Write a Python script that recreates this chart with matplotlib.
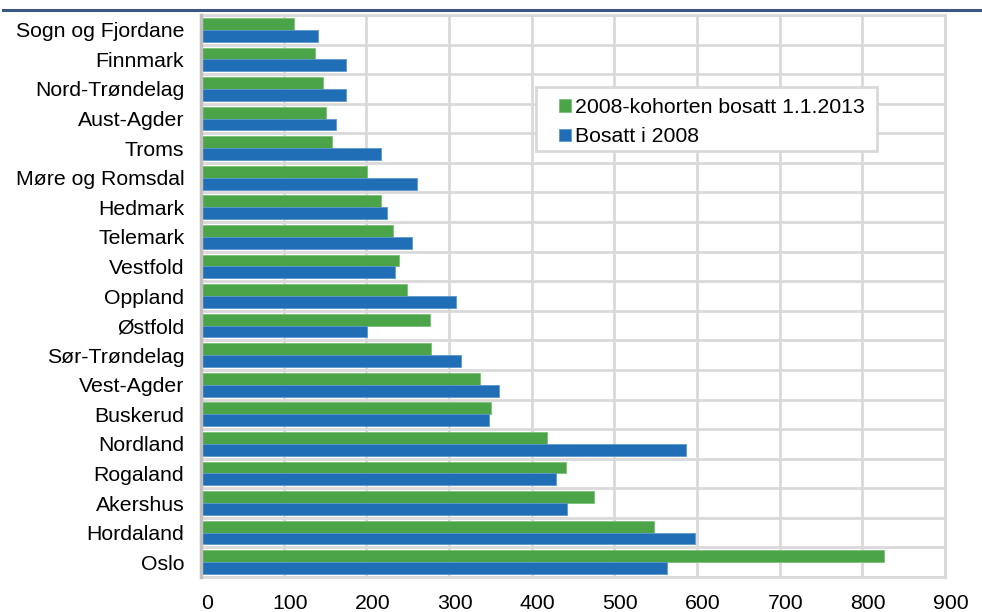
import numpy as np
import matplotlib.pyplot as plt
from matplotlib.patches import Rectangle
from matplotlib.transforms import ScaledTranslation

plt.rcParams['font.family'] = ['Liberation Sans', 'DejaVu Sans']

# Fylker, top to bottom as in the chart
fylker = ['Sogn og Fjordane', 'Finnmark', 'Nord-Trøndelag', 'Aust-Agder', 'Troms',
          'Møre og Romsdal', 'Hedmark', 'Telemark', 'Vestfold', 'Oppland', 'Østfold',
          'Sør-Trøndelag', 'Vest-Agder', 'Buskerud', 'Nordland', 'Rogaland',
          'Akershus', 'Hordaland', 'Oslo']
kohort_2013 = [113, 138, 147, 151, 158, 201, 218, 232, 240, 249, 277,
               278, 338, 351, 418, 442, 476, 548, 826]
bosatt_2008 = [141, 176, 176, 163, 218, 261, 225, 255, 235, 308, 201,
               314, 360, 348, 587, 430, 443, 598, 564]
x_ticks = [0, 100, 200, 300, 400, 500, 600, 700, 800, 900]

green = '#4ba548'
blue = '#1f6eb6'
grid_col = '#d9d9d9'

fig = plt.figure(figsize=(9.82, 6.12), dpi=100)
ax = fig.add_axes([201 / 982, 1 - 577 / 612, 744 / 982, 562 / 612])

y = np.arange(len(fylker))
h = 0.4
ax.barh(y - h / 2, kohort_2013, height=h, color=green, edgecolor='#7cc079',
        linewidth=0.6, label='2008-kohorten bosatt 1.1.2013', zorder=3)
ax.barh(y + h / 2, bosatt_2008, height=h, color=blue, edgecolor='#5d97cc',
        linewidth=0.6, label='Bosatt i 2008', zorder=3)

ax.set_xlim(0, 900)
ax.set_ylim(len(fylker) - 0.5, -0.5)
ax.set_xticks(x_ticks)
ax.set_yticks(y)
ax.set_yticklabels(fylker)
ax.set_yticks(np.arange(len(fylker) + 1) - 0.5, minor=True)
ax.tick_params(axis='both', which='both', length=0, labelsize=15.3)
ax.tick_params(axis='x', pad=12)
ax.tick_params(axis='y', pad=12)
ax.grid(axis='x', which='major', color=grid_col, linewidth=2, zorder=0)
ax.grid(axis='y', which='minor', color=grid_col, linewidth=2, zorder=0)
ax.set_axisbelow(True)

for s in ['top', 'right', 'bottom']:
    ax.spines[s].set_color(grid_col)
    ax.spines[s].set_linewidth(2)
ax.spines['left'].set_color('#bfbfbf')
ax.spines['left'].set_linewidth(2.5)
ax.spines['left'].set_zorder(4)

# Excel puts the value labels a bit right of the gridline
for lab in ax.get_xticklabels():
    lab.set_transform(lab.get_transform() + ScaledTranslation(6 / 100, 0, fig.dpi_scale_trans))

# legend box drawn by hand (uneven padding in the original)
fig.patches.append(Rectangle((536 / 982, 1 - 151 / 612), 341 / 982, 64 / 612,
                             transform=fig.transFigure, facecolor='white',
                             edgecolor=grid_col, linewidth=2, zorder=5))
leg = fig.legend(loc='upper left', bbox_to_anchor=(544 / 982, 1 - 83 / 612),
                 frameon=False, fontsize=15.3, handlelength=0.55, handleheight=0.55,
                 handletextpad=0.2, labelspacing=0.5, borderpad=0.2)
leg.set_zorder(6)

# dark rule at the top (title above is cut off)
fig.add_artist(plt.Line2D([3 / 982, 1], [1 - 9.5 / 612, 1 - 9.5 / 612],
                          transform=fig.transFigure, color='#3d5583', linewidth=2.2))

fig.savefig('out.png', dpi=100)
